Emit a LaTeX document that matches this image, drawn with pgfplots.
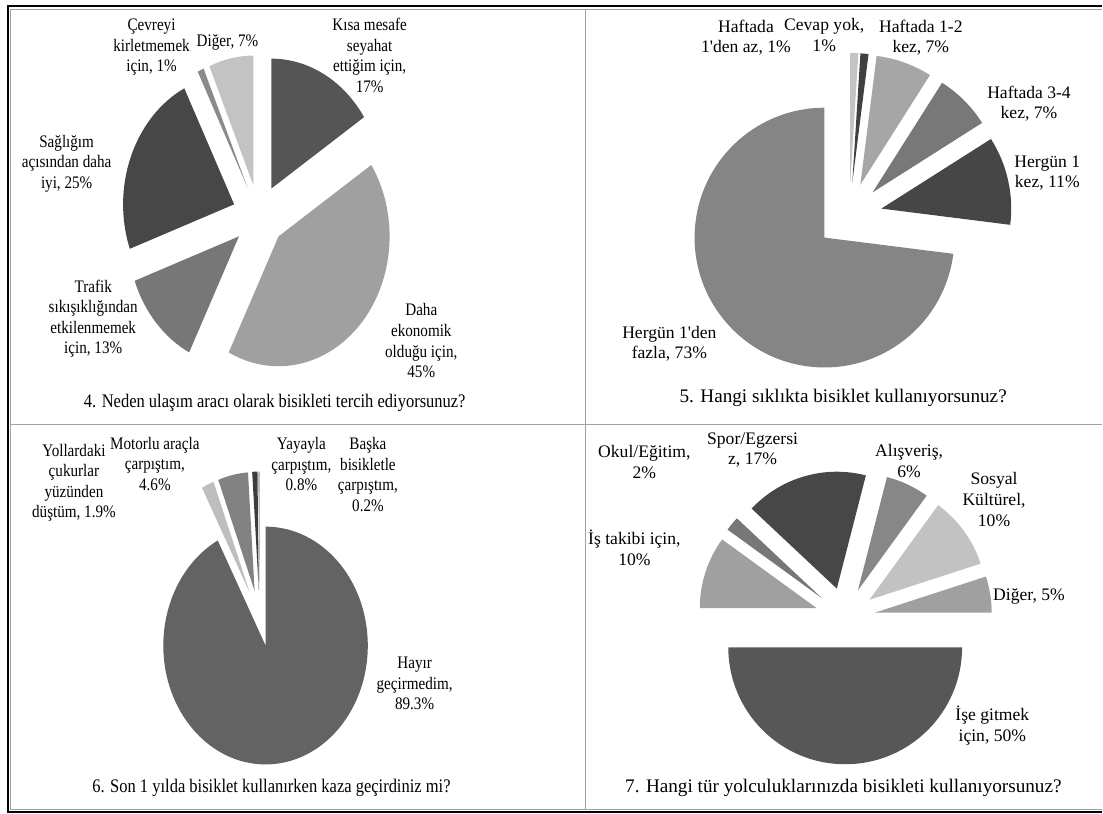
\documentclass[border=0pt]{standalone}
\usepackage{fontspec}
\setmainfont{Liberation Serif}
\usepackage{graphicx}
\usepackage{pgfplots}
\usepackage{pgfplotstable}
\pgfplotsset{compat=1.18}

% value = share shown in the label, gray = slice fill (0 black, 1 white)
\pgfplotstableread{
value gray
17 0.333
45 0.627
13 0.467
25 0.278
1  0.545
7  0.765
}\pieFour
\pgfplotstableread{
value gray
1  0.770
1  0.250
7  0.650
7  0.470
11 0.275
73 0.520
}\pieFive
\pgfplotstableread{
value gray
89.3 0.390
1.9  0.745
4.6  0.510
0.8  0.240
0.2  0.600
}\pieSix
\pgfplotstableread{
value gray
50 0.340
10 0.627
2  0.467
17 0.278
6  0.530
10 0.760
5  0.627
}\pieSeven

% Collects the slice paths of every pie (drawn later in axis coordinates).
% #1 table, #2 #3 centre, #4 radius, #5 explosion, #6 start angle (clockwise from top),
% #7 total, #8 horizontal scale of the pie
\def\pieSlices{}
\newcommand{\buildpie}[8]{%
  \pgfplotstablegetrowsof{#1}%
  \pgfmathtruncatemacro\pNrows{\pgfplotsretval-1}%
  \pgfmathsetmacro\pCum{#6}%
  \pgfplotsforeachungrouped \pI in {0,...,\pNrows}{%
    \pgfplotstablegetelem{\pI}{value}\of{#1}\let\pVal\pgfplotsretval
    \pgfplotstablegetelem{\pI}{gray}\of{#1}\let\pGray\pgfplotsretval
    \pgfmathsetmacro\pS{\pCum}%
    \pgfmathsetmacro\pE{\pCum+\pVal/#7*360}%
    \pgfmathsetmacro\pM{90-(\pS+\pE)/2}%
    \pgfmathsetmacro\pAx{#2+#8*#5*cos(\pM)}%
    \pgfmathsetmacro\pAy{#3+#5*sin(\pM)}%
    \pgfmathsetmacro\pSa{90-\pS}%
    \pgfmathsetmacro\pEa{90-\pE}%
    \pgfmathsetmacro\pBx{\pAx+#8*#4*cos(\pSa)}%
    \pgfmathsetmacro\pBy{\pAy+#4*sin(\pSa)}%
    \pgfmathsetmacro\pRx{#8*#4*0.75}%
    \pgfmathsetmacro\pRy{#4*0.75}%
    \pgfmathsetmacro\pK{100*(1-\pGray)}%
    \xdef\pieSlices{\unexpanded\expandafter{\pieSlices}%
      \noexpand\fill[black!\pK] (axis cs:\pAx,\pAy) -- (axis cs:\pBx,\pBy)
      arc[start angle=\pSa, end angle=\pEa, x radius=\pRx pt, y radius=\pRy pt] -- cycle;}%
    \let\pCum\pE
  }%
}
\buildpie{\pieFour}{259}{598}{130}{31}{0}{108}{0.855}
\buildpie{\pieFive}{850}{598}{130}{33}{0}{100}{1}
\buildpie{\pieSix}{260}{195}{119}{28}{0}{96.8}{0.86}
\buildpie{\pieSeven}{846}{196}{117}{30}{90}{100}{1}

\definecolor{rule}{gray}{0.63}
\newcommand{\ap}{\textquotesingle}
% narrower setting used in the left-hand column
\newcommand{\nl}[1]{\scalebox{0.86}[1]{\begin{tabular}{@{}c@{}}#1\end{tabular}}}
\newcommand{\nt}[1]{\scalebox{0.86}[1]{#1}}

\begin{document}
\begin{tikzpicture}[
  lbl/.style={align=center, font=\fontsize{13.2}{15.4}\selectfont, inner sep=0pt},
  ttl/.style={font=\fontsize{14.4}{16}\selectfont, inner sep=0pt}]
\begin{axis}[
  scale only axis, width=827.25pt, height=610.5pt,
  xmin=0, xmax=1103, ymin=0, ymax=814,
  hide axis, clip=false]

\path (axis cs:0,0) rectangle (axis cs:1103,814);

% table rules
\draw[black, line width=1.6pt] (axis cs:7,808) -- (axis cs:1103,808);
\draw[black, line width=1.6pt] (axis cs:8,808.8) -- (axis cs:8,0.5);
\draw[black, line width=1.6pt] (axis cs:7,1.2) -- (axis cs:1103,1.2);
\draw[rule, line width=0.75pt] (axis cs:10.5,804.5) -- (axis cs:1103,804.5);
\draw[rule, line width=0.75pt] (axis cs:10.5,804.5) -- (axis cs:10.5,3.5);
\draw[rule, line width=0.75pt] (axis cs:10.5,3.5) -- (axis cs:1103,3.5);
\draw[rule, line width=0.75pt] (axis cs:586.5,804.5) -- (axis cs:586.5,3.5);
\draw[rule, line width=0.75pt] (axis cs:10.5,389.5) -- (axis cs:1103,389.5);

\pieSlices

% 4
\node[lbl] at (axis cs:370,756.5) {\nl{Kısa mesafe\\seyahat\\ettiğim için,\\17\%}};
\node[lbl] at (axis cs:421.7,471) {\nl{Daha\\ekonomik\\olduğu için,\\45\%}};
\node[lbl] at (axis cs:93.3,495) {\nl{Trafik\\sıkışıklığından\\etkilenmemek\\için, 13\%}};
\node[lbl] at (axis cs:66.7,650) {\nl{Sağlığım\\açısından daha\\iyi, 25\%}};
\node[lbl] at (axis cs:151.7,766.7) {\nl{Çevreyi\\kirletmemek\\için, 1\%}};
\node[lbl] at (axis cs:227.7,771.3) {\nl{Diğer, 7\%}};
\node[ttl] at (axis cs:275,410.7) {\nt{4. Neden ulaşım aracı olarak bisikleti tercih ediyorsunuz?}};

% 5
\node[lbl] at (axis cs:746.7,776.5) {Haftada\\1\ap den az, 1\%};
\node[lbl] at (axis cs:825,779) {Cevap yok,\\1\%};
\node[lbl] at (axis cs:921.7,776.5) {Haftada 1-2\\kez, 7\%};
\node[lbl] at (axis cs:1030,710) {Haftada 3-4\\kez, 7\%};
\node[lbl] at (axis cs:1048.3,640.7) {Hergün 1\\kez, 11\%};
\node[lbl] at (axis cs:670,470) {Hergün 1\ap den\\fazla, 73\%};
\node[ttl] at (axis cs:844,415.7) {5. Hangi sıklıkta bisiklet kullanıyorsunuz?};

% 6
\node[lbl] at (axis cs:74,330.7) {\nl{Yollardaki\\çukurlar\\yüzünden\\düştüm, 1.9\%}};
\node[lbl] at (axis cs:155,348) {\nl{Motorlu araçla\\çarpıştım,\\4.6\%}};
\node[lbl] at (axis cs:301.7,347.3) {\nl{Yayayla\\çarpıştım,\\0.8\%}};
\node[lbl] at (axis cs:368.3,337.3) {\nl{Başka\\bisikletle\\çarpıştım,\\0.2\%}};
\node[lbl] at (axis cs:415,128.3) {\nl{Hayır\\geçirmedim,\\89.3\%}};
\node[ttl] at (axis cs:271.7,25.7) {\nt{6. Son 1 yılda bisiklet kullanırken kaza geçirdiniz mi?}};

% 7
\node[lbl] at (axis cs:645,351.7) {Okul/Eğitim,\\2\%};
\node[lbl] at (axis cs:753.3,363.7) {Spor/Egzersi\\z, 17\%};
\node[lbl] at (axis cs:910,352.3) {Alışveriş,\\6\%};
\node[lbl] at (axis cs:995,314) {Sosyal\\Kültürel,\\10\%};
\node[lbl] at (axis cs:635,265.7) {İş takibi için,\\10\%};
\node[lbl] at (axis cs:1030,217.3) {Diğer, 5\%};
\node[lbl] at (axis cs:993.3,87.7) {İşe gitmek\\için, 50\%};
\node[ttl] at (axis cs:844.2,25.7) {7. Hangi tür yolculuklarınızda bisikleti kullanıyorsunuz?};

\end{axis}
\end{tikzpicture}
\end{document}
